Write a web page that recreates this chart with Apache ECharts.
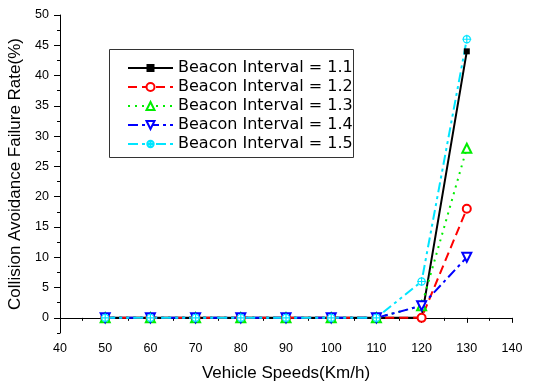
<!DOCTYPE html>
<html>
<head>
<meta charset="utf-8">
<script src="https://cdn.jsdelivr.net/npm/echarts@6/dist/echarts.min.js"></script>
<style>
  html, body { margin: 0; padding: 0; background: #fff; }
  #chart { width: 536px; height: 382px; }
</style>
</head>
<body>
<div id="chart"></div>
<script>
var speeds = [50, 60, 70, 80, 90, 100, 110, 120, 130];
var bi11 = [0, 0, 0, 0, 0, 0, 0, 0, 44];
var bi12 = [0, 0, 0, 0, 0, 0, 0, 0, 18];
var bi13 = [0, 0, 0, 0, 0, 0, 0, 2, 28];
var bi14 = [0, 0, 0, 0, 0, 0, 0, 2, 10];
var bi15 = [0, 0, 0, 0, 0, 0, 0, 6, 46];
var seriesNames = ['Beacon Interval = 1.1', 'Beacon Interval = 1.2', 'Beacon Interval = 1.3',
  'Beacon Interval = 1.4', 'Beacon Interval = 1.5'];
var yTicks = [0, 5, 10, 15, 20, 25, 30, 35, 40, 45, 50];
var yMinorTicks = [-2.5, 2.5, 7.5, 12.5, 17.5, 22.5, 27.5, 32.5, 37.5, 42.5, 47.5];

(function() {
  var font = 'Arial, "Liberation Sans", sans-serif';
  var chart = echarts.init(document.getElementById('chart'), null, { renderer: 'canvas' });

  function pairs(vals) {
    return speeds.map(function(x, i) { return [x, vals[i]]; });
  }

  var crossCircle = 'path://M10 2A8 8 0 1 1 9.99 2ZM10 0V20M0 10H20';

  function lineSeries(name, vals, color, type, symbol, size, extra) {
    var s = {
      name: name,
      type: 'line',
      data: pairs(vals),
      symbol: symbol,
      symbolSize: size,
      showAllSymbol: true,
      lineStyle: { color: color, width: 2, type: type },
      itemStyle: { color: color },
      animation: false
    };
    for (var k in extra) s[k] = extra[k];
    return s;
  }

  chart.setOption({
    backgroundColor: '#fff',
    textStyle: { fontFamily: font },
    grid: { left: 60, right: 24, top: 15, bottom: 49, outerBoundsMode: 'none' },
    graphic: [{
      type: 'rect',
      shape: { x: 109.5, y: 49.5, width: 244, height: 108 },
      style: { fill: '#fff', stroke: '#333', lineWidth: 1 },
      z: 0
    }],
    legend: {
      data: seriesNames,
      orient: 'vertical',
      left: 127,
      top: 60,
      padding: 0,
      itemWidth: 45,
      itemHeight: 10,
      itemGap: 3,
      z: 10,
      textStyle: { color: '#000', fontSize: 16, fontFamily: '"DejaVu Sans", sans-serif', padding: [0, 0, 0, 0] }
    },
    xAxis: {
      type: 'value',
      min: 40,
      max: 140,
      interval: 10,
      name: 'Vehicle Speeds(Km/h)',
      nameLocation: 'middle',
      nameGap: 32,
      nameTextStyle: { color: '#000', fontSize: 17, fontFamily: font },
      axisLine: { show: true, lineStyle: { color: '#000', width: 1 } },
      axisTick: { show: true, length: 5, lineStyle: { color: '#000' } },
      minorTick: { show: true, splitNumber: 2, length: 3, lineStyle: { color: '#000' } },
      axisLabel: { color: '#000', fontSize: 12.5, margin: 9, fontFamily: font },
      splitLine: { show: false }
    },
    yAxis: [{
      type: 'value',
      min: -2.5,
      max: 50,
      name: 'Collision Avoidance Failure Rate(%)',
      nameLocation: 'middle',
      nameGap: 27,
      nameTextStyle: { color: '#000', fontSize: 17, fontFamily: font },
      axisLine: { show: true, lineStyle: { color: '#000', width: 1 } },
      axisTick: { show: true, length: 6, customValues: yTicks, lineStyle: { color: '#000' } },
      axisLabel: { color: '#000', fontSize: 12.5, margin: 11, customValues: yTicks, fontFamily: font },
      splitLine: { show: false }
    }, {
      type: 'value',
      min: -2.5,
      max: 50,
      position: 'left',
      axisLine: { show: false },
      axisTick: { show: true, length: 3, customValues: yMinorTicks, lineStyle: { color: '#000' } },
      axisLabel: { show: false },
      splitLine: { show: false }
    }],
    series: [
      lineSeries(seriesNames[0], bi11, '#000000', 'solid', 'rect', 6, {}),
      lineSeries(seriesNames[1], bi12, '#ff0000', [9, 5], 'emptyCircle', 8, {}),
      lineSeries(seriesNames[2], bi13, '#00ee00', [2, 5], 'emptyTriangle', 9, {}),
      lineSeries(seriesNames[3], bi14, '#0000ff', [10, 4, 3, 4], 'emptyTriangle', 9, { symbolRotate: 180 }),
      lineSeries(seriesNames[4], bi15, '#00ffff', [10, 4, 3, 4, 3, 4], crossCircle, 9, {
        itemStyle: { color: '#fff', borderColor: '#00e5ff', borderWidth: 1.2 },
        lineStyle: { color: '#00e5ff', width: 2, type: [10, 4, 3, 4, 3, 4] }
      })
    ]
  });
})();
</script>
</body>
</html>
